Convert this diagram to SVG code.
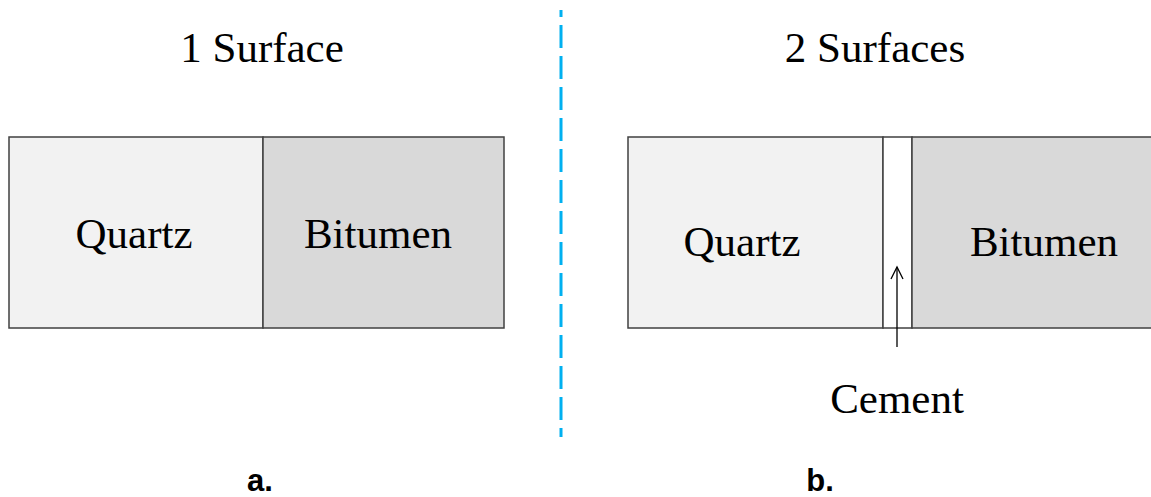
<svg xmlns="http://www.w3.org/2000/svg" width="1151" height="497" viewBox="0 0 1151 497">
<style>
.t{font-family:"Liberation Serif","Times New Roman",serif;font-size:43px;fill:#000;text-anchor:middle}
.l{font-family:"Liberation Sans",Arial,sans-serif;font-size:31px;font-weight:bold;fill:#000;text-anchor:middle}
.q{fill:#F2F2F2;stroke:#404040;stroke-width:1.5}
.b{fill:#D9D9D9;stroke:#404040;stroke-width:1.5}
.c{fill:#FFFFFF;stroke:#404040;stroke-width:1.5}
</style>
<rect width="1151" height="497" fill="#fff"/>
<g id="title-a"><text class="t" x="262" y="62">1 Surface</text></g>
<g id="title-b"><text class="t" x="875" y="62">2 Surfaces</text></g>
<g id="a-quartz"><rect class="q" x="9" y="137" width="254" height="191"/><text class="t" x="134" y="248">Quartz</text></g>
<g id="a-bitumen"><rect class="b" x="263" y="137" width="241" height="191"/><text class="t" x="378" y="248">Bitumen</text></g>
<g id="b-quartz"><rect class="q" x="628" y="137" width="255" height="191"/><text class="t" x="742" y="256">Quartz</text></g>
<g id="b-cement"><rect class="c" x="883" y="137" width="29" height="191"/></g>
<g id="b-bitumen"><rect class="b" x="912" y="137" width="245" height="191"/><text class="t" x="1044" y="256">Bitumen</text></g>
<g id="cement-label"><text class="t" x="897" y="413">Cement</text></g>
<g id="connectors" fill="none" stroke="#000" stroke-width="1.3">
<line x1="897" y1="347" x2="897" y2="267"/>
<polyline points="891,279 897,267 903,279"/>
</g>
<g id="divider"><line x1="561" y1="10" x2="561" y2="437" stroke="#00B0F0" stroke-width="3" stroke-dasharray="23,8" stroke-dashoffset="16"/></g>
<g id="label-a"><text class="l" x="260" y="491">a.</text></g>
<g id="label-b"><text class="l" x="820" y="491">b.</text></g>
</svg>
